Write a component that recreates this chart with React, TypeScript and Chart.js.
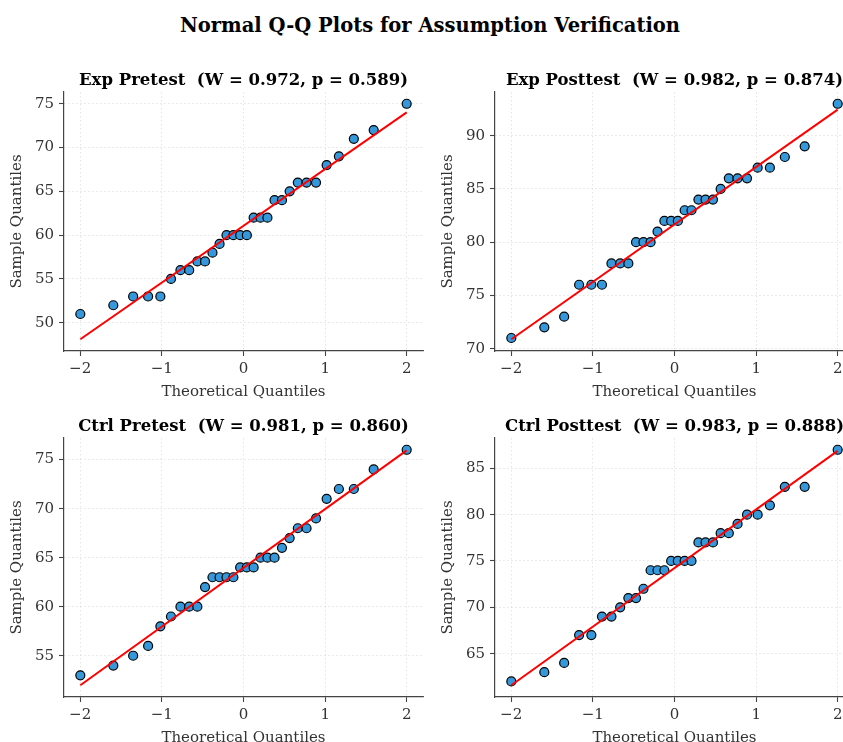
import React, { useEffect, useRef } from 'react';
import { Chart, registerables } from 'chart.js';
Chart.register(...registerables);

// Theoretical normal quantiles (order statistic medians, n = 30)
const theoreticalQuantiles = [
  -1.998, -1.594, -1.351, -1.168, -1.018, -0.888, -0.772, -0.665, -0.565, -0.471,
  -0.380, -0.293, -0.208, -0.124, -0.041, 0.041, 0.124, 0.208, 0.293, 0.380,
  0.471, 0.565, 0.665, 0.772, 0.888, 1.018, 1.168, 1.351, 1.594, 1.998,
];

const expPretest = [51, 52, 53, 53, 53, 55, 56, 56, 57, 57, 58, 59, 60, 60, 60, 60, 62, 62, 62, 64, 64, 65, 66, 66, 66, 68, 69, 71, 72, 75];
const expPosttest = [71, 72, 73, 76, 76, 76, 78, 78, 78, 80, 80, 80, 81, 82, 82, 82, 83, 83, 84, 84, 84, 85, 86, 86, 86, 87, 87, 88, 89, 93];
const ctrlPretest = [53, 54, 55, 56, 58, 59, 60, 60, 60, 62, 63, 63, 63, 63, 64, 64, 64, 65, 65, 65, 66, 67, 68, 68, 69, 71, 72, 72, 74, 76];
const ctrlPosttest = [62, 63, 64, 67, 67, 69, 69, 70, 71, 71, 72, 74, 74, 74, 75, 75, 75, 75, 77, 77, 77, 78, 78, 79, 80, 80, 81, 83, 83, 87];

const panelNames = ['Exp Pretest', 'Exp Posttest', 'Ctrl Pretest', 'Ctrl Posttest'];
const panelSeries = [expPretest, expPosttest, ctrlPretest, ctrlPosttest];
const shapiroW = ['0.972', '0.982', '0.981', '0.983'];
const shapiroP = ['0.589', '0.874', '0.860', '0.888'];

const mainTitle = 'Normal Q-Q Plots for Assumption Verification';
const xAxisLabel = 'Theoretical Quantiles';
const yAxisLabel = 'Sample Quantiles';

const SERIF = "'DejaVu Serif', serif";
const AREA_W = 359;
const AREA_H = 259;
const PAD_L = 64;
const PAD_T = 40;
const PAD_R = 20;
const PAD_B = 55;
const CANVAS_W = PAD_L + AREA_W + PAD_R;
const CANVAS_H = PAD_T + AREA_H + PAD_B;

// chart area positions (top-left) of each panel on the page
const panelPos = [
  { left: 64, top: 92 },
  { left: 495, top: 92 },
  { left: 64, top: 438 },
  { left: 495, top: 438 },
];

const fmt = (v: number) => (v < 0 ? '\u2212' + Math.abs(v) : String(v));

const subTitlePlugin = {
  id: 'subTitle',
  afterDraw(chart: any, _args: any, opts: any) {
    const { ctx, chartArea } = chart;
    ctx.save();
    ctx.font = `bold 16.5px ${SERIF}`;
    ctx.fillStyle = '#000';
    ctx.textAlign = 'center';
    ctx.textBaseline = 'alphabetic';
    ctx.fillText(opts.text, (chartArea.left + chartArea.right) / 2, chartArea.top - 7);
    ctx.restore();
  },
};

function fitLine(xs: number[], ys: number[]) {
  const n = xs.length;
  const mx = xs.reduce((a, b) => a + b, 0) / n;
  const my = ys.reduce((a, b) => a + b, 0) / n;
  let sxy = 0;
  let sxx = 0;
  for (let i = 0; i < n; i++) {
    sxy += (xs[i] - mx) * (ys[i] - my);
    sxx += (xs[i] - mx) * (xs[i] - mx);
  }
  const slope = sxy / sxx;
  const intercept = my - slope * mx;
  return { slope, intercept };
}

function QQPanel({ idx }: { idx: number }) {
  const ref = useRef<HTMLCanvasElement | null>(null);
  useEffect(() => {
    const xs = theoreticalQuantiles;
    const ys = panelSeries[idx];
    const { slope, intercept } = fitLine(xs, ys);
    const x0 = xs[0];
    const x1 = xs[xs.length - 1];
    const lineData = [
      { x: x0, y: intercept + slope * x0 },
      { x: x1, y: intercept + slope * x1 },
    ];
    const pts = xs.map((x, i) => ({ x, y: ys[i] }));
    const allY = ys.concat(lineData.map((p) => p.y));
    const yLo = Math.min(...allY);
    const yHi = Math.max(...allY);
    const yPad = 0.05 * (yHi - yLo);
    const xPad = 0.05 * (x1 - x0);

    const tickFont = { family: SERIF, size: 15 };
    const titleFont = { family: SERIF, size: 15 };
    const gridCommon = {
      color: 'rgba(170,170,170,0.4)',
      lineWidth: 0.8,
      tickLength: 5,
      tickColor: '#444',
      tickWidth: 1.1,
    };
    const borderCommon = { display: true, color: '#444', width: 1.2, dash: [1.5, 2.5] };

    const chart = new Chart(ref.current as HTMLCanvasElement, {
      type: 'scatter',
      data: {
        datasets: [
          {
            label: 'fit',
            data: lineData,
            showLine: true,
            borderColor: '#ff0000',
            borderWidth: 2,
            pointRadius: 0,
            fill: false,
          } as any,
          {
            label: 'sample',
            data: pts,
            backgroundColor: '#3498db',
            borderColor: '#000000',
            borderWidth: 1.2,
            pointRadius: 4.5,
            pointHoverRadius: 4.5,
          },
        ],
      },
      plugins: [subTitlePlugin as any],
      options: {
        responsive: false,
        animation: false,
        events: [],
        layout: { padding: { top: PAD_T, right: PAD_R, left: 0, bottom: 0 } },
        plugins: {
          legend: { display: false },
          tooltip: { enabled: false },
          subTitle: { text: `${panelNames[idx]}  (W = ${shapiroW[idx]}, p = ${shapiroP[idx]})` },
        } as any,
        scales: {
          x: {
            type: 'linear',
            min: x0 - xPad,
            max: x1 + xPad,
            afterFit: (s: any) => {
              s.height = PAD_B;
            },
            ticks: {
              stepSize: 1,
              includeBounds: false,
              color: '#333',
              font: tickFont,
              padding: 4,
              maxRotation: 0,
              callback: (v: any) => fmt(Number(v)),
            },
            grid: gridCommon,
            border: borderCommon,
            title: {
              display: true,
              text: xAxisLabel,
              color: '#333',
              font: titleFont,
              padding: { top: 0, bottom: 5 },
            },
          },
          y: {
            type: 'linear',
            min: yLo - yPad,
            max: yHi + yPad,
            afterFit: (s: any) => {
              s.width = PAD_L;
            },
            ticks: {
              stepSize: 5,
              includeBounds: false,
              color: '#333',
              font: tickFont,
              padding: 5,
              callback: (v: any) => fmt(Number(v)),
            },
            grid: gridCommon,
            border: borderCommon,
            title: {
              display: true,
              text: yAxisLabel,
              color: '#333',
              font: titleFont,
              padding: { top: 8, bottom: 0 },
            },
          },
        },
      } as any,
    });
    return () => chart.destroy();
  }, [idx]);

  const pos = panelPos[idx];
  return (
    <canvas
      ref={ref}
      width={CANVAS_W}
      height={CANVAS_H}
      style={{
        position: 'absolute',
        left: pos.left - PAD_L,
        top: pos.top - PAD_T,
        width: CANVAS_W,
        height: CANVAS_H,
      }}
    />
  );
}

export default function App() {
  return (
    <div
      style={{
        position: 'fixed',
        left: 0,
        top: 0,
        width: 843,
        height: 742,
        overflow: 'hidden',
        background: '#fff',
      }}
    >
      <div
        style={{
          position: 'absolute',
          left: 0,
          top: 14,
          width: 860,
          textAlign: 'center',
          font: `bold 19.5px ${SERIF}`,
          lineHeight: '24px',
          color: '#000',
          whiteSpace: 'nowrap',
        }}
      >
        {mainTitle}
      </div>
      {[0, 1, 2, 3].map((i) => (
        <QQPanel key={i} idx={i} />
      ))}
    </div>
  );
}
